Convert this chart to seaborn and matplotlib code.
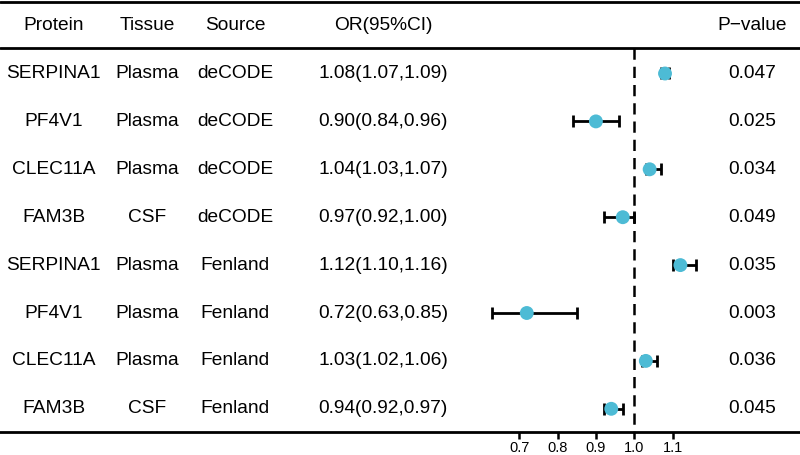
import pandas as pd
import seaborn as sns
import matplotlib.pyplot as plt
from matplotlib.transforms import blended_transform_factory

# forest plot data
proteins = ["SERPINA1", "PF4V1", "CLEC11A", "FAM3B", "SERPINA1", "PF4V1", "CLEC11A", "FAM3B"]
tissues = ["Plasma", "Plasma", "Plasma", "CSF", "Plasma", "Plasma", "Plasma", "CSF"]
sources = ["deCODE"] * 4 + ["Fenland"] * 4
or_vals = [1.08, 0.90, 1.04, 0.97, 1.12, 0.72, 1.03, 0.94]
ci_low = [1.07, 0.84, 1.03, 0.92, 1.10, 0.63, 1.02, 0.92]
ci_high = [1.09, 0.96, 1.07, 1.00, 1.16, 0.85, 1.06, 0.97]
p_values = ["0.047", "0.025", "0.034", "0.049", "0.035", "0.003", "0.036", "0.045"]
x_ticks = [0.7, 0.8, 0.9, 1.0, 1.1]

df = pd.DataFrame({
    "Protein": proteins, "Tissue": tissues, "Source": sources,
    "OR": or_vals, "low": ci_low, "high": ci_high, "P": p_values,
})
df["row"] = range(1, len(df) + 1)
df["label"] = [f"{o:.2f}({l:.2f},{h:.2f})" for o, l, h in zip(df.OR, df.low, df.high)]

sns.set_style("white")
plt.rcParams["font.family"] = ["Liberation Sans", "DejaVu Sans"]
plt.rcParams["text.color"] = "black"

fig = plt.figure(figsize=(8, 4.55), dpi=100)
ax = fig.add_axes([0, 23 / 455, 1, 432 / 455])

# error bars then points
ax.errorbar(df.OR, df.row, xerr=[df.OR - df.low, df.high - df.OR], fmt="none",
            ecolor="black", elinewidth=2, capsize=4.5, capthick=2, zorder=2)
sns.scatterplot(data=df, x="OR", y="row", ax=ax, color="#4DBBD5", s=100,
                edgecolor="none", zorder=3, legend=False)

ax.set_xlim(1 - 634.3 / 384, 1 + 165.7 / 384)
ax.set_ylim(1 + (432 - 73.5) / 47.9, 1 - 73.5 / 47.9)

# reference line and table rules
ax.vlines(1.0, 0.47, 8.48, colors="black", linestyles=(0, (4.5, 2.8)), linewidth=1.8, zorder=1)
ax.axhline(-0.49, color="black", linewidth=2)
ax.axhline(0.468, color="black", linewidth=2)

# table text
tr = blended_transform_factory(ax.transAxes, ax.transData)
cols = [("Protein", 53.5), ("Tissue", 147.5), ("Source", 235), ("label", 383), ("P", 752)]
headers = {"Protein": "Protein", "Tissue": "Tissue", "Source": "Source",
           "label": "OR(95%CI)", "P": "P\u2212value"}
for col, px in cols:
    ax.text(px / 800, 0, headers[col], transform=tr, ha="center", va="center",
            fontsize=13.8, color="black")
    for _, r in df.iterrows():
        ax.text(px / 800, r["row"], r[col], transform=tr, ha="center", va="center",
                fontsize=13.8, color="black")

# axis styling
for side in ["top", "left", "right"]:
    ax.spines[side].set_visible(False)
ax.spines["bottom"].set_linewidth(2)
ax.spines["bottom"].set_color("black")
ax.set_yticks([])
ax.set_xticks(x_ticks)
ax.set_xticklabels([f"{t:.1f}" for t in x_ticks])
ax.tick_params(axis="x", direction="out", length=5, width=1.8, labelsize=10.5, pad=1.5,
               bottom=True, colors="black")
ax.set_xlabel("")
ax.set_ylabel("")

fig.savefig("out.png", dpi=100)
